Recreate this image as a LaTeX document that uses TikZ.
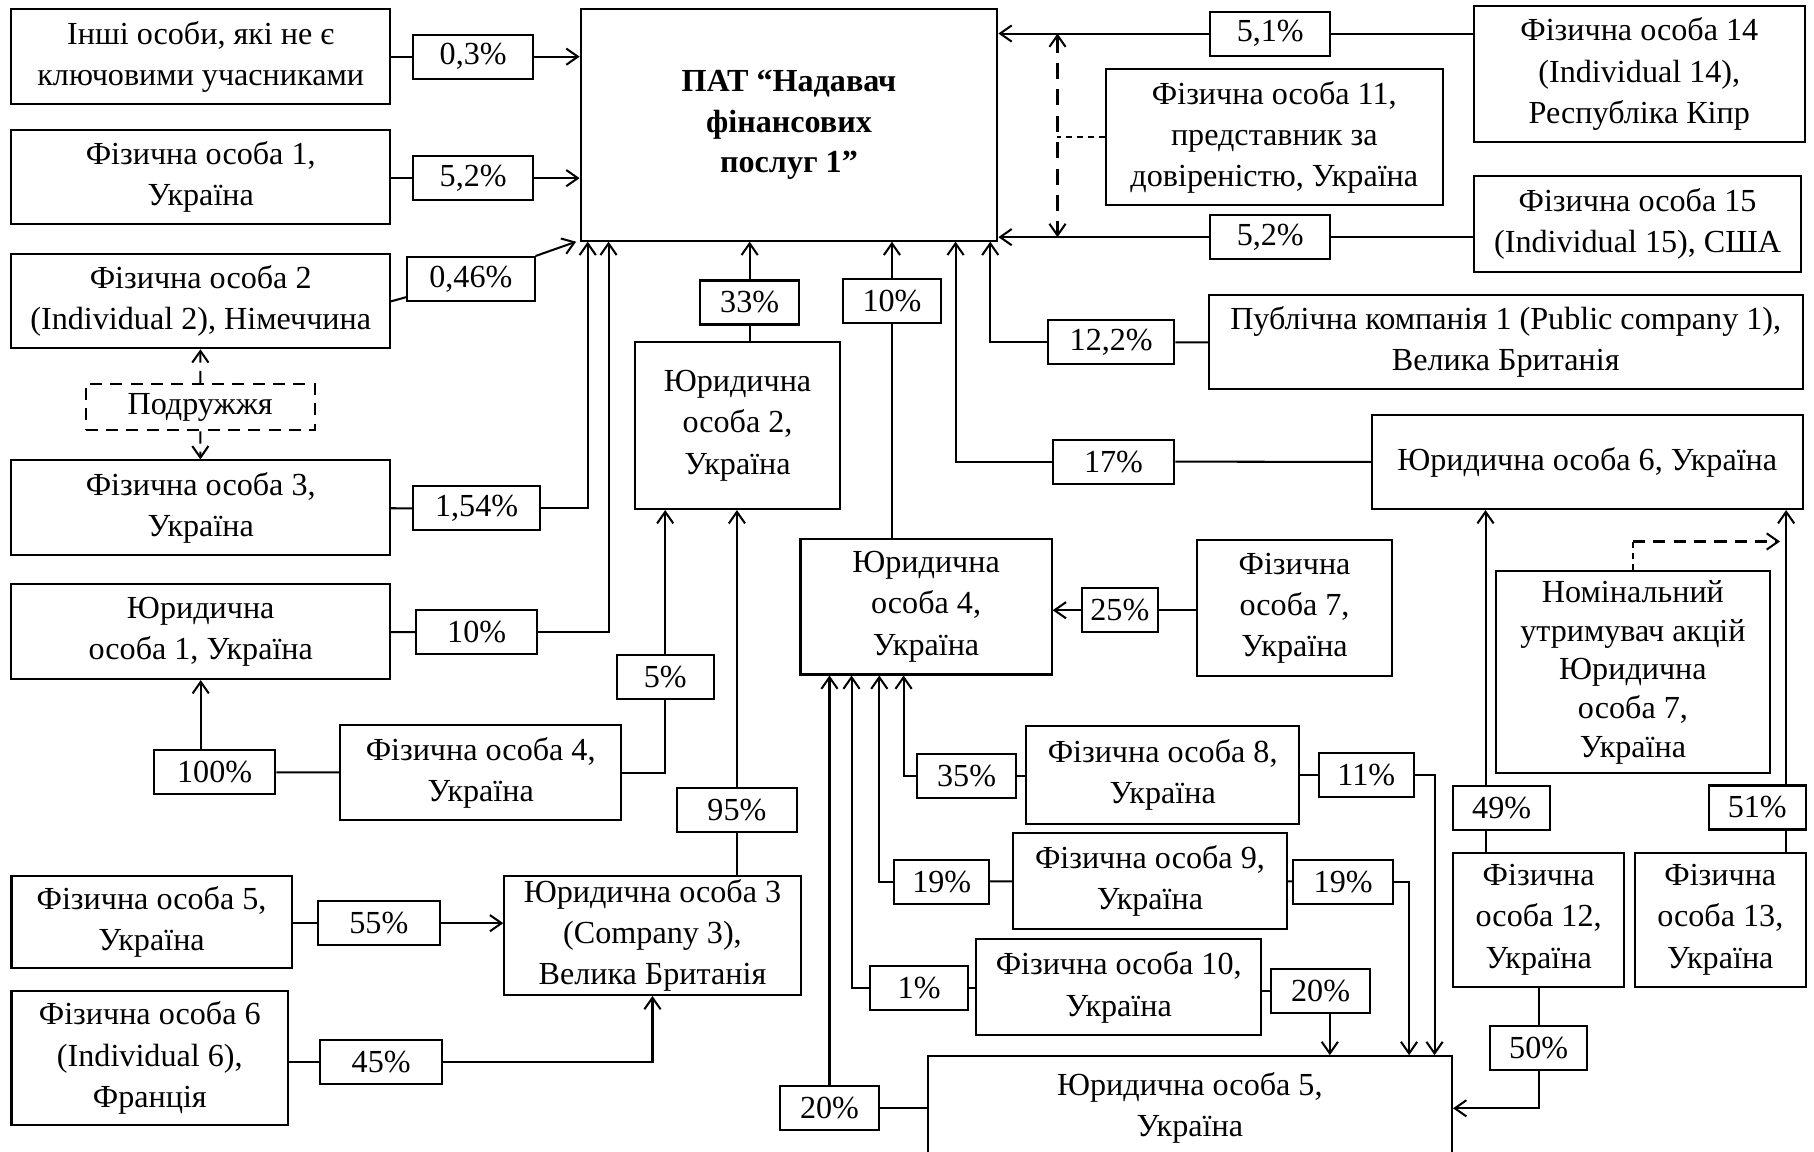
\documentclass[tikz,border=0pt]{standalone}
\usepackage{fontspec}
\setmainfont{Liberation Serif}
\usetikzlibrary{arrows.meta, calc}

\tikzset{
	box/.style 2 args = {draw, align = center, inner sep = 0pt, minimum width = #1cm, minimum height = #2cm},
	pct/.style = {box = {#1}{0.38}},
	thindash/.style = {line width = 0.4pt, dash pattern = on 1.5pt off 1.2pt},
}

\begin{document}
\begin{tikzpicture}[x = 0.01cm, y = -0.01cm, line width = 0.5pt, font = \fontsize{7.9}{10.1}\selectfont,
		> = {Straight Barb[length = 1.0mm, width = 1.4mm]}]

	\clip (0, 0) rectangle (1568, 995);

	% Main company
	
	\node [box = {3.60}{2.00}, font = \fontsize{7.9}{10}\selectfont\bfseries] (pat) at (682, 108) {ПАТ “Надавач\\фінансових\\послуг 1”};

	% Owners on the left
	
	\node [box = {3.27}{0.82}] (fo0) at (173.5, 49) {Інші особи, які не є\\ключовими учасниками};
	\node [box = {3.27}{0.82}] (fo1) at (173.5, 153) {Фізична особа 1,\\Україна};
	\node [box = {3.27}{0.81}] (fo2) at (173.5, 260.5) {Фізична особа 2\\(Individual 2), Німеччина};
	\node [box = {1.98}{0.40}, dash pattern = on 3pt off 2pt] (spouse) at (173, 352) {Подружжя};
	\node [box = {3.27}{0.82}] (fo3) at (173.5, 439) {Фізична особа 3,\\Україна};
	\node [box = {3.27}{0.82}] (le1) at (173.5, 546) {Юридична\\особа 1, Україна};
	\node [box = {2.43}{0.82}] (fo4) at (415.5, 668) {Фізична особа 4,\\Україна};
	\node [box = {2.42}{0.80}] (fo5) at (131, 797) {Фізична особа 5,\\Україна};
	\node [box = {2.39}{1.15}] (fo6) at (129.5, 914.5) {Фізична особа 6\\(Individual 6),\\Франція};
	\node [box = {2.56}{1.03}] (le3) at (564, 808.5) {Юридична особа 3\\(Company 3),\\Велика Британія};
	\node [box = {1.77}{1.44}] (le2) at (637.5, 368) {Юридична\\особа 2,\\Україна};

	% Owners in the middle
	
	\node [box = {2.17}{1.17}] (le4) at (800.5, 524.5) {Юридична\\особа 4,\\Україна};
	\node [box = {1.68}{1.17}] (fo7) at (1119, 525.5) {Фізична\\особа 7,\\Україна};
	\node [box = {2.36}{0.84}] (fo8) at (1005, 670) {Фізична особа 8,\\Україна};
	\node [box = {2.36}{0.83}] (fo9) at (994, 761.5) {Фізична особа 9,\\Україна};
	\node [box = {2.46}{0.83}] (fo10) at (967, 853.5) {Фізична особа 10,\\Україна};
	\node [box = {4.53}{0.90}] (le5) at (1028.5, 958) {Юридична особа 5,\\Україна};

	% Owners on the right
	
	\node [box = {2.86}{1.18}] (fo14) at (1417, 64) {Фізична особа 14\\(Individual 14),\\Республіка Кіпр};
	\node [box = {2.91}{1.17}] (fo11) at (1101.5, 118.5) {Фізична особа 11,\\представник за\\довіреністю, Україна};
	\node [box = {2.83}{0.83}] (fo15) at (1415.5, 193.5) {Фізична особа 15\\(Individual 15), США};
	\node [box = {5.13}{0.81}] (pc1) at (1301.5, 295.5) {Публічна компанія 1 (Public company 1),\\Велика Британія};
	\node [box = {3.72}{0.81}] (le6) at (1372, 399.5) {Юридична особа 6, Україна};
	\node [box = {2.37}{1.74}, font = \fontsize{7.9}{9.5}\selectfont] (nom) at (1411.5, 581) {Номінальний\\утримувач акцій\\Юридична\\особа 7,\\Україна};
	\node [box = {1.48}{1.16}] (fo12) at (1330, 795) {Фізична\\особа 12,\\Україна};
	\node [box = {1.48}{1.16}] (fo13) at (1487, 795) {Фізична\\особа 13,\\Україна};

	% Shares
	
	\node [pct = 1.04] (p03) at (409, 49) {0,3\%};
	\node [pct = 1.04] (p52a) at (409, 154) {5,2\%};
	\node [pct = 1.10] (p046) at (407, 241) {0,46\%};
	\node [pct = 1.10] (p154) at (412, 439.5) {1,54\%};
	\node [pct = 1.04] (p10a) at (412, 546.5) {10\%};
	\node [pct = 1.05] (p100) at (185.5, 667.5) {100\%};
	\node [pct = 0.84] (p5) at (575, 585) {5\%};
	\node [pct = 0.85] (p33) at (648, 261.5) {33\%};
	\node [pct = 0.84] (p10b) at (771, 260) {10\%};
	\node [pct = 1.03] (p95) at (637, 700.5) {95\%};
	\node [pct = 1.05] (p55) at (327.5, 798) {55\%};
	\node [pct = 1.05] (p45) at (329.5, 918) {45\%};
	\node [pct = 0.66] (p25) at (968, 527.5) {25\%};
	\node [pct = 1.04] (p51) at (1098, 29) {5,1\%};
	\node [pct = 1.04] (p52b) at (1098, 205) {5,2\%};
	\node [pct = 1.09] (p122) at (960.5, 296) {12,2\%};
	\node [pct = 1.05] (p17) at (962.5, 399) {17\%};
	\node [pct = 0.84] (p49) at (1298, 698.5) {49\%};
	\node [pct = 0.84] (p51b) at (1519, 698) {51\%};
	\node [pct = 0.84] (p50) at (1330, 905.5) {50\%};
	\node [pct = 0.85] (p35) at (835.5, 671) {35\%};
	\node [pct = 0.82] (p11) at (1181, 670) {11\%};
	\node [pct = 0.82] (p19a) at (814, 762) {19\%};
	\node [pct = 0.86] (p19b) at (1161, 762) {19\%};
	\node [pct = 0.85] (p1) at (794.5, 854) {1\%};
	\node [pct = 0.85] (p20a) at (1141.5, 857) {20\%};
	\node [pct = 0.85] (p20b) at (717, 958) {20\%};

	% Links into the main company
	
	\draw (fo0) -- (p03);
	\draw [->] (p03) -- (pat.west |- p03);
	\draw (fo1.east |- p52a) -- (p52a);
	\draw [->] (p52a) -- (pat.west |- p52a);
	\draw (fo2.east) -- ([yshift = 0.04cm] p046.south west);
	\draw [->] (p046) -- ([xshift = -0.03cm] pat.south west);
	\draw (fo3) -- (p154);
	\draw [->] (p154.east) -| ($(pat.south west) + (7, 0)$);
	\draw (le1) -- (p10a);
	\draw [->] (p10a.east) -| ($(pat.south west) + (25, 0)$);
	\draw (p33 |- le2.north) -- (p33);
	\draw [->] (p33) -- (p33 |- pat.south);
	\draw (p10b |- le4.north) -- (p10b);
	\draw [->] (p10b) -- (p10b |- pat.south);
	\draw (le6) -- (p17);
	\draw [->] (p17.west) -| ($(pat.south east) + (-37, 0)$);
	\draw (pc1) -- (p122);
	\draw [->] (p122.west) -| ($(pat.south east) + (-7, 0)$);
	\draw (fo14.west |- p51) -- (p51);
	\draw [->] (p51) -- (pat.east |- p51);
	\draw (fo15.west |- p52b) -- (p52b);
	\draw [->] (p52b) -- (pat.east |- p52b);

	% Proxy of the two owners
	
	\draw [<->, dash pattern = on 4pt off 2.5pt] ($(p51.west) + (-131, 0)$) -- ($(p52b.west) + (-131, 0)$);
	\draw [thindash] (fo11.west) -- ++(-41, 0);

	% Spouses
	
	\draw [->, dash pattern = on 3pt off 2pt] (spouse) -- (fo2);
	\draw [->, dash pattern = on 3pt off 2pt] (spouse) -- (fo3);

	% Links on the left
	
	\draw (fo4) -- (p100);
	\draw [->] (p100.north -| le1) -- (le1.south);
	\draw (fo4.east) -| (p5.south);
	\draw [->] (p5.north) -- (p5.north |- le2.south);
	\draw (p95 |- le3.north) -- (p95);
	\draw [->] (p95) -- (p95 |- le2.south);
	\draw (fo5.east |- p55) -- (p55);
	\draw [->] (p55) -- (le3.west |- p55);
	\draw (fo6.east |- p45) -- (p45);
	\draw [->] (p45.east) -| (le3.south);

	% Links in the middle
	
	\draw (fo7.west |- p25) -- (p25);
	\draw [->] (p25) -- (le4.east |- p25);
	\draw (fo8.west |- p35) -- (p35);
	\draw [->] (p35.west) -| ($(le4.south west) + (90, 0)$);
	\draw (fo9) -- (p19a);
	\draw [->] (p19a.west) -| ($(le4.south west) + (69, 0)$);
	\draw (fo10.west |- p1) -- (p1);
	\draw [->] (p1.west) -| ($(le4.south west) + (45, 0)$);
	\draw (le5.west |- p20b) -- (p20b);
	\draw [->] (p20b.north) -- (p20b.north |- le4.south);
	\draw (fo8.east |- p11) -- (p11);
	\draw [->] (p11.east) -| ($(le5.north east) + (-16, 0)$);
	\draw (fo9) -- (p19b);
	\draw [->] (p19b.east) -| ($(le5.north east) + (-38, 0)$);
	\draw (fo10.east |- p20a) -- (p20a);
	\coordinate (a20) at ($(p20a.south) + (8, 0)$);
	\draw [->] (a20) -- (a20 |- le5.north);

	% Links on the right
	
	\draw (fo12) -- (p50);
	\draw [->] (p50.south) |- (le5.east);
	\coordinate (c49) at ($(fo12.north west) + (29, 0)$);
	\draw (c49) -- (c49 |- p49.south);
	\draw [->] (c49 |- p49.north) -- (c49 |- le6.south);
	\coordinate (c51) at ($(fo13.north east) + (-18, 0)$);
	\draw (c51) -- (c51 |- p51b.south);
	\draw [->] (c51 |- p51b.north) -- (c51 |- le6.south);
	\coordinate (nomtop) at ($(nom.north) + (0, -25)$);
	\draw [thindash] (nom.north) -- (nomtop);
	\draw [->, dash pattern = on 3pt off 2pt, shorten > = 1.5pt] (nomtop) -- (c51 |- nomtop);

\end{tikzpicture}
\end{document}
